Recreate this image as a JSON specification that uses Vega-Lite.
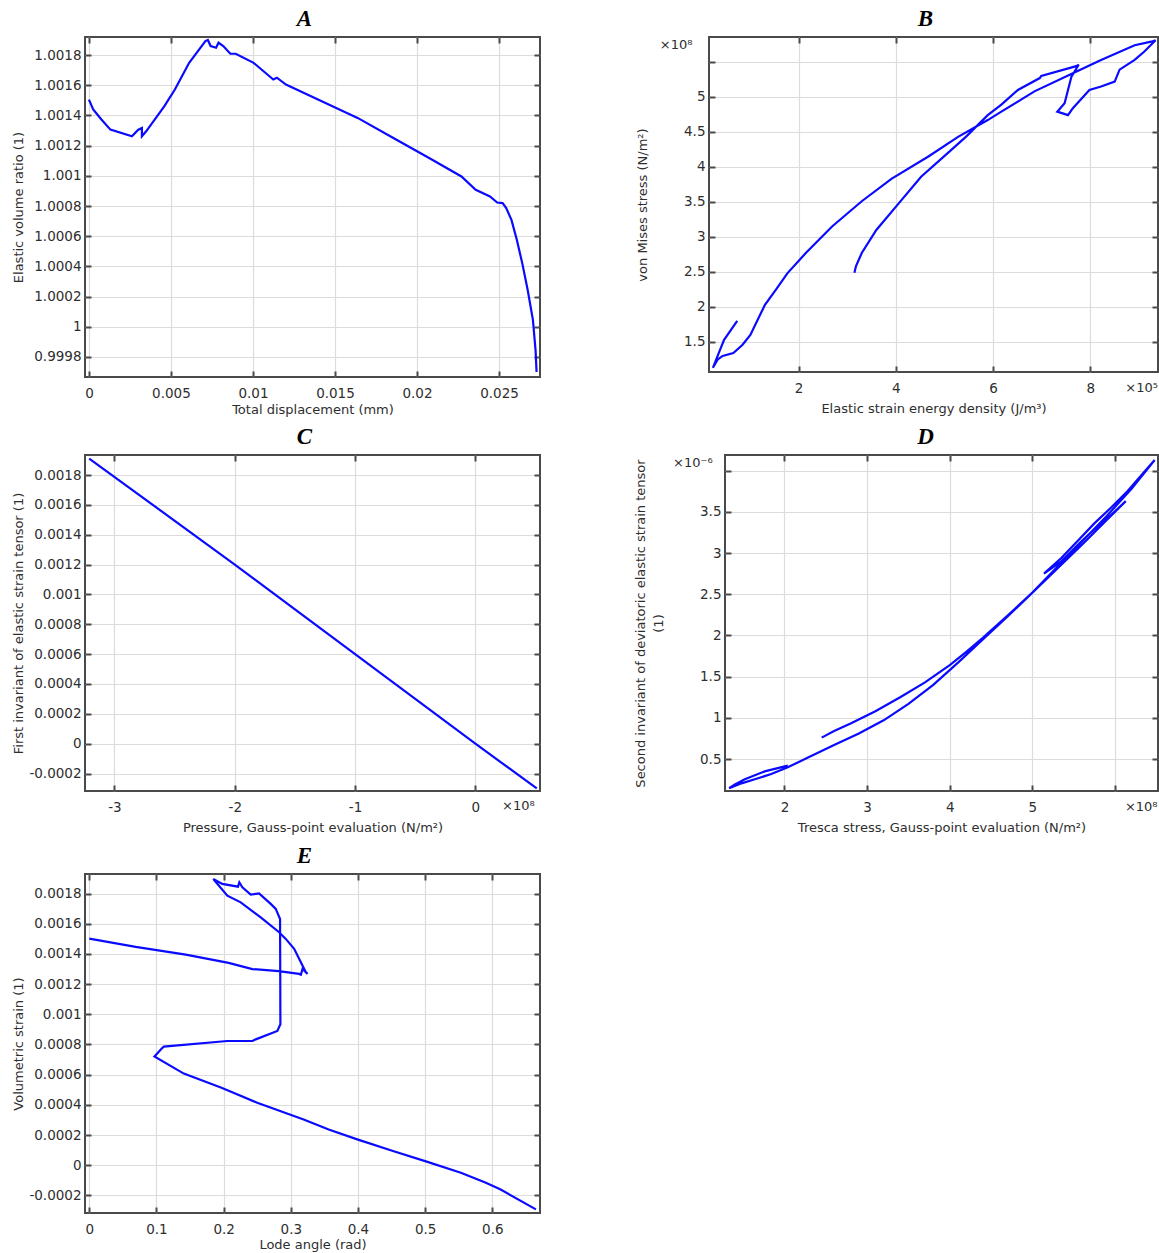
{
  "$schema": "https://vega.github.io/schema/vega-lite/v6.json",
  "background": "white",
  "padding": {"left": 11, "top": 6, "right": 0, "bottom": 0},
  "spacing": 9,
  "config": {
    "view": {"stroke": "#4a4a4a", "strokeWidth": 2},
    "font": "DejaVu Sans",
    "axis": {
      "labelFont": "DejaVu Sans", "labelFontSize": 13.5, "labelColor": "#2e2e2e",
      "titleFont": "DejaVu Sans", "titleFontSize": 13, "titleFontWeight": "normal", "titleColor": "#2e2e2e",
      "domain": false, "grid": true, "gridColor": "#dcdcdc", "gridWidth": 1.2,
      "ticks": true, "tickColor": "#4a4a4a", "tickWidth": 2, "tickSize": -6,
      "labelFlush": false, "labelOverlap": false, "labelBound": false,
      "titleBaseline": "middle"
    },
    "axisLeft": {"labelPadding": 10},
    "axisBottom": {"labelPadding": 15},
    "title": {"font": "Liberation Serif", "fontSize": 23, "fontStyle": "italic", "fontWeight": "bold", "color": "#000000", "frame": "group", "offset": 5}
  },
  "vconcat": [
    {
      "spacing": 8,
      "vconcat": [
        {
          "spacing": 93,
          "hconcat": [
            {
              "title": {"text": "A", "dx": -8},
              "width": 455, "height": 340,
              "data": {"values": [
                {"i":0,"displacement":0,"ratio":1.001505},
                {"i":1,"displacement":0.00026,"ratio":1.00144},
                {"i":2,"displacement":0.00076,"ratio":1.001373},
                {"i":3,"displacement":0.00131,"ratio":1.001306},
                {"i":4,"displacement":0.00262,"ratio":1.001262},
                {"i":5,"displacement":0.00301,"ratio":1.001306},
                {"i":6,"displacement":0.00323,"ratio":1.001317},
                {"i":7,"displacement":0.00323,"ratio":1.001262},
                {"i":8,"displacement":0.00349,"ratio":1.001295},
                {"i":9,"displacement":0.00459,"ratio":1.001461},
                {"i":10,"displacement":0.00524,"ratio":1.001572},
                {"i":11,"displacement":0.00611,"ratio":1.001749},
                {"i":12,"displacement":0.0071,"ratio":1.001893},
                {"i":13,"displacement":0.00725,"ratio":1.0019},
                {"i":14,"displacement":0.00742,"ratio":1.00186},
                {"i":15,"displacement":0.00775,"ratio":1.001849},
                {"i":16,"displacement":0.0079,"ratio":1.001882},
                {"i":17,"displacement":0.00819,"ratio":1.00186},
                {"i":18,"displacement":0.00862,"ratio":1.001809},
                {"i":19,"displacement":0.00895,"ratio":1.001809},
                {"i":20,"displacement":0.01004,"ratio":1.001749},
                {"i":21,"displacement":0.01124,"ratio":1.001638},
                {"i":22,"displacement":0.01146,"ratio":1.00165},
                {"i":23,"displacement":0.01201,"ratio":1.001605},
                {"i":24,"displacement":0.01354,"ratio":1.001528},
                {"i":25,"displacement":0.01638,"ratio":1.001384},
                {"i":26,"displacement":0.01856,"ratio":1.001251},
                {"i":27,"displacement":0.02074,"ratio":1.001118},
                {"i":28,"displacement":0.02271,"ratio":1.000996},
                {"i":29,"displacement":0.02358,"ratio":1.000907},
                {"i":30,"displacement":0.02445,"ratio":1.000863},
                {"i":31,"displacement":0.02489,"ratio":1.000823},
                {"i":32,"displacement":0.02522,"ratio":1.000819},
                {"i":33,"displacement":0.02544,"ratio":1.000786},
                {"i":34,"displacement":0.02576,"ratio":1.000708},
                {"i":35,"displacement":0.02609,"ratio":1.000575},
                {"i":36,"displacement":0.02642,"ratio":1.00042},
                {"i":37,"displacement":0.02675,"ratio":1.000243},
                {"i":38,"displacement":0.02707,"ratio":1.000044},
                {"i":39,"displacement":0.02723,"ratio":0.999844},
                {"i":40,"displacement":0.02729,"ratio":0.9997}
              ]},
              "layer": [
                {
                  "mark": {"type": "line", "color": "#0a0aff", "strokeWidth": 2.2},
                  "encoding": {
                    "x": {"field": "displacement", "type": "quantitative",
                          "scale": {"domain": [-0.00024, 0.0275], "nice": false, "zero": false},
                          "axis": {"title": "Total displacement (mm)", "values": [0, 0.005, 0.01, 0.015, 0.02, 0.025], "labelExpr": "'' + datum.value", "titleY": 32}},
                    "y": {"field": "ratio", "type": "quantitative",
                          "scale": {"domain": [0.999667, 1.00192], "nice": false, "zero": false},
                          "axis": {"title": "Elastic volume ratio (1)", "values": [0.9998, 1, 1.0002, 1.0004, 1.0006, 1.0008, 1.001, 1.0012, 1.0014, 1.0016, 1.0018], "labelExpr": "'' + datum.value", "titleX": -67}},
                    "order": {"field": "i", "type": "quantitative"}
                  }
                },
                {
                  "mark": {"type": "point", "opacity": 0},
                  "encoding": {
                    "x": {"field": "displacement", "type": "quantitative",
                          "scale": {"domain": [-0.00024, 0.0275], "nice": false, "zero": false},
                          "axis": {"orient": "top", "values": [0, 0.005, 0.01, 0.015, 0.02, 0.025], "labels": false, "grid": false, "title": null}},
                    "y": {"field": "ratio", "type": "quantitative",
                          "scale": {"domain": [0.999667, 1.00192], "nice": false, "zero": false},
                          "axis": {"orient": "right", "values": [0.9998, 1, 1.0002, 1.0004, 1.0006, 1.0008, 1.001, 1.0012, 1.0014, 1.0016, 1.0018], "labels": false, "grid": false, "title": null}}
                  }
                }
              ],
              "resolve": {"axis": {"x": "independent", "y": "independent"}}
            },
            {
              "title": {"text": "B", "dx": -8},
              "width": 449, "height": 335,
              "data": {"values": [
                {"i":0,"energy":0.74,"mises":1.80},
                {"i":1,"energy":0.47,"mises":1.53},
                {"i":2,"energy":0.36,"mises":1.34},
                {"i":3,"energy":0.24,"mises":1.13},
                {"i":4,"energy":0.34,"mises":1.25},
                {"i":5,"energy":0.44,"mises":1.30},
                {"i":6,"energy":0.66,"mises":1.34},
                {"i":7,"energy":0.85,"mises":1.46},
                {"i":8,"energy":1.01,"mises":1.60},
                {"i":9,"energy":1.31,"mises":2.03},
                {"i":10,"energy":1.54,"mises":2.25},
                {"i":11,"energy":1.77,"mises":2.48},
                {"i":12,"energy":2.15,"mises":2.77},
                {"i":13,"energy":2.69,"mises":3.15},
                {"i":14,"energy":3.30,"mises":3.51},
                {"i":15,"energy":3.91,"mises":3.83},
                {"i":16,"energy":4.67,"mises":4.15},
                {"i":17,"energy":5.28,"mises":4.43},
                {"i":18,"energy":5.89,"mises":4.67},
                {"i":19,"energy":6.17,"mises":4.79},
                {"i":20,"energy":6.85,"mises":5.08},
                {"i":21,"energy":7.64,"mises":5.34},
                {"i":22,"energy":8.22,"mises":5.53},
                {"i":23,"energy":8.91,"mises":5.74},
                {"i":24,"energy":9.25,"mises":5.79},
                {"i":25,"energy":9.34,"mises":5.81},
                {"i":26,"energy":9.11,"mises":5.65},
                {"i":27,"energy":8.91,"mises":5.53},
                {"i":28,"energy":8.60,"mises":5.39},
                {"i":29,"energy":8.50,"mises":5.22},
                {"i":30,"energy":8.22,"mises":5.15},
                {"i":31,"energy":7.98,"mises":5.10},
                {"i":32,"energy":7.64,"mises":4.84},
                {"i":33,"energy":7.54,"mises":4.74},
                {"i":34,"energy":7.32,"mises":4.79},
                {"i":35,"energy":7.47,"mises":4.91},
                {"i":36,"energy":7.61,"mises":5.29},
                {"i":37,"energy":7.76,"mises":5.46},
                {"i":38,"energy":7.71,"mises":5.44},
                {"i":39,"energy":6.99,"mises":5.30},
                {"i":40,"energy":6.96,"mises":5.27},
                {"i":41,"energy":6.51,"mises":5.10},
                {"i":42,"energy":6.17,"mises":4.89},
                {"i":43,"energy":5.89,"mises":4.74},
                {"i":44,"energy":5.44,"mises":4.43},
                {"i":45,"energy":4.98,"mises":4.145},
                {"i":46,"energy":4.52,"mises":3.86},
                {"i":47,"energy":4.06,"mises":3.48},
                {"i":48,"energy":3.60,"mises":3.10},
                {"i":49,"energy":3.30,"mises":2.77},
                {"i":50,"energy":3.18,"mises":2.58},
                {"i":51,"energy":3.15,"mises":2.49}
              ]},
              "layer": [
                {
                  "mark": {"type": "line", "color": "#0a0aff", "strokeWidth": 2.2},
                  "encoding": {
                    "x": {"field": "energy", "type": "quantitative",
                          "scale": {"domain": [0.16, 9.39], "nice": false, "zero": false},
                          "axis": {"title": "Elastic strain energy density (J/m³)", "values": [2, 4, 6, 8], "labelExpr": "'' + datum.value", "titleY": 36}},
                    "y": {"field": "mises", "type": "quantitative",
                          "scale": {"domain": [1.07, 5.857], "nice": false, "zero": false},
                          "axis": {"title": "von Mises stress (N/m²)", "values": [1.5, 2, 2.5, 3, 3.5, 4, 4.5, 5, 5.5], "labelExpr": "datum.value == 5.5 ? '' : '' + datum.value", "titleX": -67}},
                    "order": {"field": "i", "type": "quantitative"}
                  }
                },
                {
                  "mark": {"type": "point", "opacity": 0},
                  "encoding": {
                    "x": {"field": "energy", "type": "quantitative",
                          "scale": {"domain": [0.16, 9.39], "nice": false, "zero": false},
                          "axis": {"orient": "top", "values": [2, 4, 6, 8], "labels": false, "grid": false, "title": null}},
                    "y": {"field": "mises", "type": "quantitative",
                          "scale": {"domain": [1.07, 5.857], "nice": false, "zero": false},
                          "axis": {"orient": "right", "values": [1.5, 2, 2.5, 3, 3.5, 4, 4.5, 5, 5.5], "labels": false, "grid": false, "title": null}}
                  }
                },
                {
                  "data": {"values": [{}]},
                  "mark": {"type": "text", "font": "DejaVu Sans", "fontSize": 13, "color": "#2e2e2e", "align": "right", "baseline": "middle"},
                  "encoding": {
                    "x": {"datum": -0.18, "type": "quantitative", "scale": {"domain": [0.16, 9.39], "nice": false, "zero": false}, "axis": null},
                    "y": {"datum": 5.74, "type": "quantitative", "scale": {"domain": [1.07, 5.857], "nice": false, "zero": false}, "axis": null},
                    "text": {"value": "×10⁸"}
                  }
                },
                {
                  "data": {"values": [{}]},
                  "mark": {"type": "text", "font": "DejaVu Sans", "fontSize": 13, "color": "#2e2e2e", "align": "right", "baseline": "middle"},
                  "encoding": {
                    "x": {"datum": 9.39, "type": "quantitative", "scale": {"domain": [0.16, 9.39], "nice": false, "zero": false}, "axis": null},
                    "y": {"datum": 0.843, "type": "quantitative", "scale": {"domain": [1.07, 5.857], "nice": false, "zero": false}, "axis": null},
                    "text": {"value": "×10⁵"}
                  }
                }
              ],
              "resolve": {"axis": {"x": "independent", "y": "independent"}}
            }
          ]
        },
        {
          "spacing": 89,
          "hconcat": [
            {
              "title": {"text": "C", "dx": -8},
              "width": 455, "height": 336,
              "data": {"values": [
                {"i":0,"pressure":-3.21,"invariant":0.00191},
                {"i":1,"pressure":-2,"invariant":0.0012},
                {"i":2,"pressure":-1,"invariant":0.0006},
                {"i":3,"pressure":0,"invariant":0},
                {"i":4,"pressure":0.51,"invariant":-0.0003}
              ]},
              "layer": [
                {
                  "mark": {"type": "line", "color": "#0a0aff", "strokeWidth": 2.2},
                  "encoding": {
                    "x": {"field": "pressure", "type": "quantitative",
                          "scale": {"domain": [-3.245, 0.537], "nice": false, "zero": false},
                          "axis": {"title": "Pressure, Gauss-point evaluation (N/m²)", "values": [-3, -2, -1, 0], "labelExpr": "'' + datum.value", "titleY": 36}},
                    "y": {"field": "invariant", "type": "quantitative",
                          "scale": {"domain": [-0.000317, 0.001934], "nice": false, "zero": false},
                          "axis": {"title": "First invariant of elastic strain tensor (1)", "values": [-0.0002, 0, 0.0002, 0.0004, 0.0006, 0.0008, 0.001, 0.0012, 0.0014, 0.0016, 0.0018], "labelExpr": "'' + datum.value", "titleX": -67}},
                    "order": {"field": "i", "type": "quantitative"}
                  }
                },
                {
                  "mark": {"type": "point", "opacity": 0},
                  "encoding": {
                    "x": {"field": "pressure", "type": "quantitative",
                          "scale": {"domain": [-3.245, 0.537], "nice": false, "zero": false},
                          "axis": {"orient": "top", "values": [-3, -2, -1, 0], "labels": false, "grid": false, "title": null}},
                    "y": {"field": "invariant", "type": "quantitative",
                          "scale": {"domain": [-0.000317, 0.001934], "nice": false, "zero": false},
                          "axis": {"orient": "right", "values": [-0.0002, 0, 0.0002, 0.0004, 0.0006, 0.0008, 0.001, 0.0012, 0.0014, 0.0016, 0.0018], "labels": false, "grid": false, "title": null}}
                  }
                },
                {
                  "data": {"values": [{}]},
                  "mark": {"type": "text", "font": "DejaVu Sans", "fontSize": 13, "color": "#2e2e2e", "align": "right", "baseline": "middle"},
                  "encoding": {
                    "x": {"datum": 0.493, "type": "quantitative", "scale": {"domain": [-3.245, 0.537], "nice": false, "zero": false}, "axis": null},
                    "y": {"datum": -0.000415, "type": "quantitative", "scale": {"domain": [-0.000317, 0.001934], "nice": false, "zero": false}, "axis": null},
                    "text": {"value": "×10⁸"}
                  }
                }
              ],
              "resolve": {"axis": {"x": "independent", "y": "independent"}}
            },
            {
              "title": {"text": "D", "dx": -16},
              "width": 433, "height": 336,
              "data": {"values": [
                {"i":0,"tresca":2.04,"j2":0.42},
                {"i":1,"tresca":1.76,"j2":0.35},
                {"i":2,"tresca":1.52,"j2":0.255},
                {"i":3,"tresca":1.40,"j2":0.19},
                {"i":4,"tresca":1.33,"j2":0.145},
                {"i":5,"tresca":1.48,"j2":0.205},
                {"i":6,"tresca":1.66,"j2":0.26},
                {"i":7,"tresca":1.84,"j2":0.318},
                {"i":8,"tresca":2.04,"j2":0.40},
                {"i":9,"tresca":2.31,"j2":0.53},
                {"i":10,"tresca":2.6,"j2":0.67},
                {"i":11,"tresca":2.9,"j2":0.81},
                {"i":12,"tresca":3.2,"j2":0.97},
                {"i":13,"tresca":3.5,"j2":1.17},
                {"i":14,"tresca":3.8,"j2":1.40},
                {"i":15,"tresca":4.1,"j2":1.67},
                {"i":16,"tresca":4.4,"j2":1.95},
                {"i":17,"tresca":4.7,"j2":2.23},
                {"i":18,"tresca":5.0,"j2":2.52},
                {"i":19,"tresca":5.3,"j2":2.83},
                {"i":20,"tresca":5.6,"j2":3.14},
                {"i":21,"tresca":5.9,"j2":3.45},
                {"i":22,"tresca":6.2,"j2":3.78},
                {"i":23,"tresca":6.48,"j2":4.13},
                {"i":24,"tresca":6.35,"j2":3.98},
                {"i":25,"tresca":6.15,"j2":3.75},
                {"i":26,"tresca":5.95,"j2":3.55},
                {"i":27,"tresca":5.75,"j2":3.36},
                {"i":28,"tresca":5.55,"j2":3.15},
                {"i":29,"tresca":5.35,"j2":2.94},
                {"i":30,"tresca":5.14,"j2":2.75},
                {"i":31,"tresca":5.35,"j2":2.90},
                {"i":32,"tresca":5.55,"j2":3.10},
                {"i":33,"tresca":5.75,"j2":3.29},
                {"i":34,"tresca":5.95,"j2":3.46},
                {"i":35,"tresca":6.13,"j2":3.63},
                {"i":36,"tresca":5.9,"j2":3.40},
                {"i":37,"tresca":5.6,"j2":3.10},
                {"i":38,"tresca":5.3,"j2":2.81},
                {"i":39,"tresca":5.0,"j2":2.52},
                {"i":40,"tresca":4.7,"j2":2.24},
                {"i":41,"tresca":4.4,"j2":1.97},
                {"i":42,"tresca":4.2,"j2":1.80},
                {"i":43,"tresca":4.0,"j2":1.64},
                {"i":44,"tresca":3.7,"j2":1.43},
                {"i":45,"tresca":3.4,"j2":1.25},
                {"i":46,"tresca":3.1,"j2":1.08},
                {"i":47,"tresca":2.8,"j2":0.93},
                {"i":48,"tresca":2.6,"j2":0.84},
                {"i":49,"tresca":2.45,"j2":0.76}
              ]},
              "layer": [
                {
                  "mark": {"type": "line", "color": "#0a0aff", "strokeWidth": 2.2},
                  "encoding": {
                    "x": {"field": "tresca", "type": "quantitative",
                          "scale": {"domain": [1.28, 6.52], "nice": false, "zero": false},
                          "axis": {"title": "Tresca stress, Gauss-point evaluation (N/m²)", "values": [2, 3, 4, 5, 6], "labelExpr": "datum.value == 6 ? '' : '' + datum.value", "titleY": 36}},
                    "y": {"field": "j2", "type": "quantitative",
                          "scale": {"domain": [0.112, 4.19], "nice": false, "zero": false},
                          "axis": {"title": ["Second invariant of deviatoric elastic strain tensor", "(1)"], "titleLineHeight": 18, "values": [0.5, 1, 1.5, 2, 2.5, 3, 3.5, 4], "labelExpr": "datum.value == 4 ? '' : '' + datum.value", "titleX": -85}},
                    "order": {"field": "i", "type": "quantitative"}
                  }
                },
                {
                  "mark": {"type": "point", "opacity": 0},
                  "encoding": {
                    "x": {"field": "tresca", "type": "quantitative",
                          "scale": {"domain": [1.28, 6.52], "nice": false, "zero": false},
                          "axis": {"orient": "top", "values": [2, 3, 4, 5, 6], "labels": false, "grid": false, "title": null}},
                    "y": {"field": "j2", "type": "quantitative",
                          "scale": {"domain": [0.112, 4.19], "nice": false, "zero": false},
                          "axis": {"orient": "right", "values": [0.5, 1, 1.5, 2, 2.5, 3, 3.5, 4], "labels": false, "grid": false, "title": null}}
                  }
                },
                {
                  "data": {"values": [{}]},
                  "mark": {"type": "text", "font": "DejaVu Sans", "fontSize": 13, "color": "#2e2e2e", "align": "right", "baseline": "middle"},
                  "encoding": {
                    "x": {"datum": 1.13, "type": "quantitative", "scale": {"domain": [1.28, 6.52], "nice": false, "zero": false}, "axis": null},
                    "y": {"datum": 4.095, "type": "quantitative", "scale": {"domain": [0.112, 4.19], "nice": false, "zero": false}, "axis": null},
                    "text": {"value": "×10⁻⁶"}
                  }
                },
                {
                  "data": {"values": [{}]},
                  "mark": {"type": "text", "font": "DejaVu Sans", "fontSize": 13, "color": "#2e2e2e", "align": "right", "baseline": "middle"},
                  "encoding": {
                    "x": {"datum": 6.515, "type": "quantitative", "scale": {"domain": [1.28, 6.52], "nice": false, "zero": false}, "axis": null},
                    "y": {"datum": -0.083, "type": "quantitative", "scale": {"domain": [0.112, 4.19], "nice": false, "zero": false}, "axis": null},
                    "text": {"value": "×10⁸"}
                  }
                }
              ],
              "resolve": {"axis": {"x": "independent", "y": "independent"}}
            }
          ]
        }
      ]
    },
    {
      "title": {"text": "E", "dx": -8},
      "width": 455, "height": 339,
      "data": {"values": [
        {"i":0,"lode":0,"volstrain":0.001502},
        {"i":1,"lode":0.0691,"volstrain":0.001447},
        {"i":2,"lode":0.1436,"volstrain":0.001396},
        {"i":3,"lode":0.2074,"volstrain":0.001341},
        {"i":4,"lode":0.2428,"volstrain":0.0013},
        {"i":5,"lode":0.282,"volstrain":0.001286},
        {"i":6,"lode":0.3124,"volstrain":0.001268},
        {"i":7,"lode":0.315,"volstrain":0.001263},
        {"i":8,"lode":0.3174,"volstrain":0.0013},
        {"i":9,"lode":0.325,"volstrain":0.001268},
        {"i":10,"lode":0.3224,"volstrain":0.001279},
        {"i":11,"lode":0.305,"volstrain":0.001434},
        {"i":12,"lode":0.2925,"volstrain":0.0015},
        {"i":13,"lode":0.2826,"volstrain":0.001544},
        {"i":14,"lode":0.2552,"volstrain":0.001643},
        {"i":15,"lode":0.2254,"volstrain":0.001742},
        {"i":16,"lode":0.2055,"volstrain":0.001786},
        {"i":17,"lode":0.1846,"volstrain":0.001897},
        {"i":18,"lode":0.198,"volstrain":0.001864},
        {"i":19,"lode":0.2214,"volstrain":0.001846},
        {"i":20,"lode":0.2234,"volstrain":0.001875},
        {"i":21,"lode":0.2279,"volstrain":0.001842},
        {"i":22,"lode":0.2403,"volstrain":0.001793},
        {"i":23,"lode":0.2527,"volstrain":0.001802},
        {"i":24,"lode":0.2701,"volstrain":0.001732},
        {"i":25,"lode":0.2776,"volstrain":0.001699},
        {"i":26,"lode":0.284,"volstrain":0.001632},
        {"i":27,"lode":0.2843,"volstrain":0.00125},
        {"i":28,"lode":0.2845,"volstrain":0.000934},
        {"i":29,"lode":0.28,"volstrain":0.00089},
        {"i":30,"lode":0.2478,"volstrain":0.000834},
        {"i":31,"lode":0.2428,"volstrain":0.000823},
        {"i":32,"lode":0.2055,"volstrain":0.000823},
        {"i":33,"lode":0.1109,"volstrain":0.000786},
        {"i":34,"lode":0.1075,"volstrain":0.000772},
        {"i":35,"lode":0.097,"volstrain":0.00072},
        {"i":36,"lode":0.1407,"volstrain":0.000607},
        {"i":37,"lode":0.1968,"volstrain":0.000513},
        {"i":38,"lode":0.25,"volstrain":0.000414},
        {"i":39,"lode":0.3191,"volstrain":0.000303},
        {"i":40,"lode":0.3564,"volstrain":0.000237},
        {"i":41,"lode":0.3989,"volstrain":0.000171},
        {"i":42,"lode":0.4521,"volstrain":0.000094},
        {"i":43,"lode":0.5,"volstrain":0.000027},
        {"i":44,"lode":0.5532,"volstrain":-0.00005},
        {"i":45,"lode":0.5904,"volstrain":-0.000116},
        {"i":46,"lode":0.6117,"volstrain":-0.00016},
        {"i":47,"lode":0.6649,"volstrain":-0.000293}
      ]},
      "layer": [
        {
          "mark": {"type": "line", "color": "#0a0aff", "strokeWidth": 2.2},
          "encoding": {
            "x": {"field": "lode", "type": "quantitative",
                  "scale": {"domain": [-0.0064, 0.671], "nice": false, "zero": false},
                  "axis": {"title": "Lode angle (rad)", "values": [0, 0.1, 0.2, 0.3, 0.4, 0.5, 0.6], "labelExpr": "'' + datum.value", "titleY": 31}},
            "y": {"field": "volstrain", "type": "quantitative",
                  "scale": {"domain": [-0.000317, 0.00193], "nice": false, "zero": false},
                  "axis": {"title": "Volumetric strain (1)", "values": [-0.0002, 0, 0.0002, 0.0004, 0.0006, 0.0008, 0.001, 0.0012, 0.0014, 0.0016, 0.0018], "labelExpr": "'' + datum.value", "titleX": -67}},
            "order": {"field": "i", "type": "quantitative"}
          }
        },
        {
          "mark": {"type": "point", "opacity": 0},
          "encoding": {
            "x": {"field": "lode", "type": "quantitative",
                  "scale": {"domain": [-0.0064, 0.671], "nice": false, "zero": false},
                  "axis": {"orient": "top", "values": [0, 0.1, 0.2, 0.3, 0.4, 0.5, 0.6], "labels": false, "grid": false, "title": null}},
            "y": {"field": "volstrain", "type": "quantitative",
                  "scale": {"domain": [-0.000317, 0.00193], "nice": false, "zero": false},
                  "axis": {"orient": "right", "values": [-0.0002, 0, 0.0002, 0.0004, 0.0006, 0.0008, 0.001, 0.0012, 0.0014, 0.0016, 0.0018], "labels": false, "grid": false, "title": null}}
          }
        }
      ],
      "resolve": {"axis": {"x": "independent", "y": "independent"}}
    }
  ]
}
